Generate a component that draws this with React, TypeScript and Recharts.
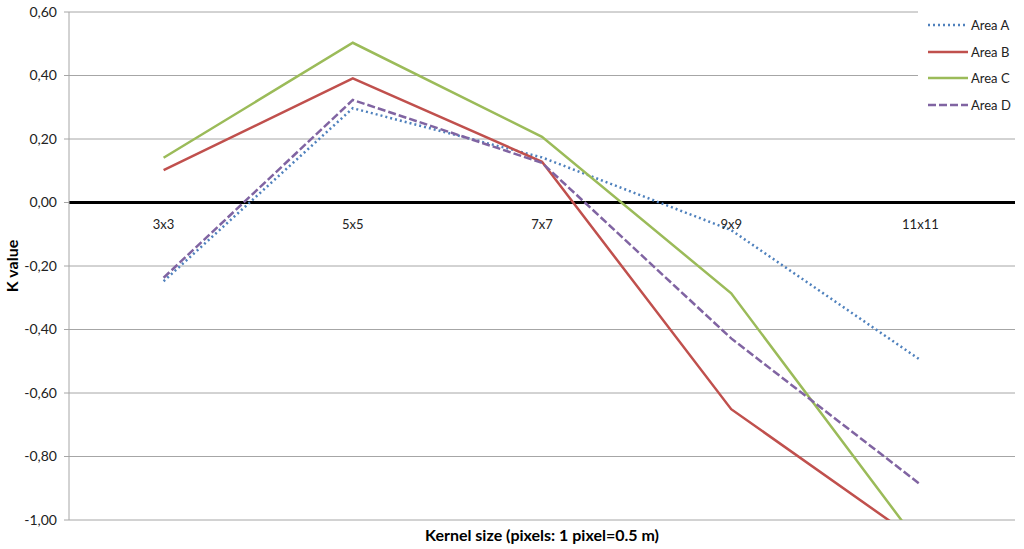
import React from 'react';
import {
  LineChart,
  Line,
  XAxis,
  YAxis,
  CartesianGrid,
  ReferenceLine,
  ReferenceDot,
} from 'recharts';

const categories = ['3x3', '5x5', '7x7', '9x9', '11x11'];
const areaA = [-0.248, 0.297, 0.142, -0.087, -0.496];
const areaB = [0.102, 0.391, 0.128, -0.651, -1.071];
const areaC = [0.141, 0.503, 0.207, -0.286, -1.08];
const areaD = [-0.237, 0.323, 0.125, -0.428, -0.888];
const yTicks = [-1, -0.8, -0.6, -0.4, -0.2, 0, 0.2, 0.4, 0.6];

const seriesNames = ['Area A', 'Area B', 'Area C', 'Area D'];
const seriesKeys = ['a', 'b', 'c', 'd'];
const seriesColors = ['#4F81BD', '#C0504D', '#9BBB59', '#8064A2'];
const seriesDash = ['2 3', undefined, undefined, '8 3'];

const data = categories.map((cat, i) => ({
  cat,
  a: areaA[i],
  b: areaB[i],
  c: areaC[i],
  d: areaD[i],
}));

const FONT = 'Lato, "Open Sans", sans-serif';

const fmt = (v: number) => v.toFixed(2).replace('.', ',');

const LegendBox = () => (
  <div
    style={{
      position: 'absolute',
      left: 918,
      top: 0,
      width: 106,
      height: 118,
      background: '#fff',
      fontFamily: FONT,
      fontSize: 13,
      color: '#222',
    }}
  >
    {seriesNames.map((n, i) => (
      <div
        key={n}
        style={{ position: 'absolute', left: 10, top: 16 + i * 26.7, height: 18, display: 'flex', alignItems: 'center' }}
      >
        <svg width={40} height={6} style={{ display: 'block' }}>
          <line x1={0} y1={3} x2={40} y2={3} stroke={seriesColors[i]} strokeWidth={2.5} strokeDasharray={seriesDash[i]} />
        </svg>
        <span style={{ marginLeft: 3 }}>{n}</span>
      </div>
    ))}
  </div>
);

export default function App() {
  return (
    <div style={{ position: 'absolute', left: 0, top: 0, width: 1024, height: 549, background: '#fff' }}>
      <LineChart width={1024} height={549} data={data} margin={{ top: 12, right: 9, left: 0, bottom: 0 }}>
        <CartesianGrid vertical={false} stroke="#A6A6A6" strokeWidth={1} />
        <XAxis
          dataKey="cat"
          height={29}
          tick={false}
          tickLine={false}
          axisLine={false}
          padding={{ left: 94.6, right: 94.6 }}
          label={(props: any) => {
            const vb = props.viewBox || {};
            return (
              <text x={vb.x + vb.width / 2} y={vb.y + 21} textAnchor="middle" fontFamily={FONT} fontSize={16} fontWeight="bold" fill="#000">
                Kernel size (pixels: 1 pixel=0.5 m)
              </text>
            );
          }}
        />
        <YAxis
          width={69}
          domain={[-1, 0.6]}
          ticks={yTicks}
          allowDataOverflow
          tickFormatter={fmt}
          tickSize={5}
          tickMargin={7}
          tick={{ fontFamily: FONT, fontSize: 14, fill: '#222' }}
          axisLine={{ stroke: '#A6A6A6' }}
          tickLine={{ stroke: '#A6A6A6' }}
          label={(props: any) => {
            const vb = props.viewBox || {};
            const cx = 11;
            const cy = vb.y + vb.height / 2;
            return (
              <text x={cx} y={cy} transform={`rotate(-90 ${cx} ${cy})`} textAnchor="middle" dominantBaseline="central" fontFamily={FONT} fontSize={16} fontWeight="bold" fill="#000">
                K value
              </text>
            );
          }}
        />
        <ReferenceLine y={0} stroke="#000" strokeWidth={3} />
        {categories.map((c) => (
          <ReferenceDot
            key={c}
            x={c}
            y={0}
            r={0}
            fill="none"
            stroke="none"
            label={{ value: c, position: 'bottom', offset: 17, fontFamily: FONT, fontSize: 13, fill: '#222' }}
          />
        ))}
        {seriesKeys.map((k, i) => (
          <Line
            key={k}
            type="linear"
            dataKey={k}
            name={seriesNames[i]}
            stroke={seriesColors[i]}
            strokeWidth={2.5}
            strokeDasharray={seriesDash[i]}
            dot={false}
            activeDot={false}
            isAnimationActive={false}
          />
        ))}
      </LineChart>
      <LegendBox />
    </div>
  );
}
